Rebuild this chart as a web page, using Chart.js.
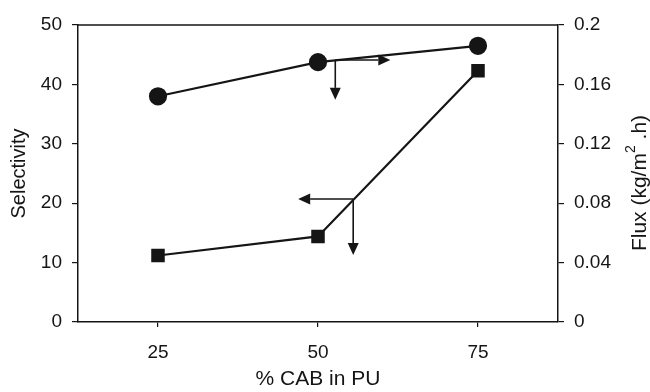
<!DOCTYPE html>
<html>
<head>
<meta charset="utf-8">
<script src="https://cdn.jsdelivr.net/npm/chart.js@4/dist/chart.umd.min.js"></script>
<style>
	html, body { margin: 0; padding: 0; background: #fff; }
	#wrap { width: 650px; height: 392px; position: relative; }
</style>
</head>
<body>
<div id="wrap"><canvas id="cabChart"></canvas></div>
<script>
// values
const cabPercent = [25, 50, 75];
const selectivity = [11.2, 14.4, 42.3];
const flux = [0.152, 0.175, 0.186];
const xTicks = [25, 50, 75];
const selectivityTicks = [0, 10, 20, 30, 40, 50];
const fluxTicks = [0, 0.04, 0.08, 0.12, 0.16, 0.2];

// arrows telling which axis each curve belongs to (x in %CAB, y in selectivity units)
const arrowFrom = [[52.7, 44.1], [52.7, 44.1], [55.5, 20.7], [55.5, 20.7]];
const arrowTo = [[61.3, 44.1], [52.7, 37.4], [46.9, 20.7], [55.5, 11.3]];

const FONT = '"Liberation Sans", Arial, sans-serif';
const INK = '#151515';

const frameAndArrows = {
	id: 'frameAndArrows',
	afterDatasetsDraw(chart) {
		const ctx = chart.ctx;
		const a = chart.chartArea;
		const xs = chart.scales.x, ys = chart.scales.y;
		ctx.save();
		// top border of the plot frame
		ctx.strokeStyle = INK;
		ctx.lineWidth = 1.5;
		ctx.beginPath();
		ctx.moveTo(a.left, a.top);
		ctx.lineTo(a.right, a.top);
		ctx.stroke();

		// arrows
		ctx.lineWidth = 1.6;
		ctx.fillStyle = INK;
		arrowFrom.forEach((f, i) => {
			const x0 = xs.getPixelForValue(f[0]), y0 = ys.getPixelForValue(f[1]);
			const x1 = xs.getPixelForValue(arrowTo[i][0]), y1 = ys.getPixelForValue(arrowTo[i][1]);
			const ang = Math.atan2(y1 - y0, x1 - x0);
			const len = 12, half = 5.5;
			const bx = x1 - len * Math.cos(ang), by = y1 - len * Math.sin(ang);
			ctx.beginPath();
			ctx.moveTo(x0, y0);
			ctx.lineTo(bx, by);
			ctx.stroke();
			ctx.beginPath();
			ctx.moveTo(x1, y1);
			ctx.lineTo(bx + half * Math.sin(ang), by - half * Math.cos(ang));
			ctx.lineTo(bx - half * Math.sin(ang), by + half * Math.cos(ang));
			ctx.closePath();
			ctx.fill();
		});

		// right axis title, reading bottom to top, with superscript
		const tx = 640, ty = 183;
		ctx.translate(tx, ty);
		ctx.rotate(-Math.PI / 2);
		ctx.textBaseline = 'middle';
		ctx.textAlign = 'left';
		const p1 = 'Flux (kg/m', p2 = '2', p3 = ' .h)';
		ctx.font = '21px ' + FONT;
		const w1 = ctx.measureText(p1).width, w3 = ctx.measureText(p3).width;
		ctx.font = '14px ' + FONT;
		const w2 = ctx.measureText(p2).width;
		let x = -(w1 + w2 + w3) / 2;
		ctx.font = '21px ' + FONT;
		ctx.fillText(p1, x, 0);
		x += w1;
		ctx.font = '14px ' + FONT;
		ctx.fillText(p2, x, -9);
		x += w2;
		ctx.font = '21px ' + FONT;
		ctx.fillText(p3, x, 0);
		ctx.restore();
	}
};

const ctx = document.getElementById('cabChart').getContext('2d');
const cabChart = new Chart(ctx, {
	type: 'line',
	data: {
		datasets: [
			{
				label: 'Flux',
				data: cabPercent.map((c, i) => ({ x: c, y: flux[i] })),
				yAxisID: 'y1',
				borderColor: INK,
				backgroundColor: INK,
				borderWidth: 2.2,
				pointStyle: 'circle',
				pointRadius: 8,
				pointHoverRadius: 8,
			},
			{
				label: 'Selectivity',
				data: cabPercent.map((c, i) => ({ x: c, y: selectivity[i] })),
				yAxisID: 'y',
				borderColor: INK,
				backgroundColor: INK,
				borderWidth: 2.2,
				pointStyle: 'rect',
				pointRadius: 8,
				pointHoverRadius: 8,
			}
		]
	},
	options: {
		responsive: true,
		maintainAspectRatio: false,
		animation: false,
		layout: { padding: { top: 25, left: 0, right: 0, bottom: 0 } },
		plugins: {
			legend: { display: false },
			tooltip: { enabled: false }
		},
		scales: {
			x: {
				type: 'linear',
				min: 12.5,
				max: 87.5,
				afterBuildTicks: scale => { scale.ticks = xTicks.map(v => ({ value: v })); },
				afterFit: scale => { scale.height = 70; },
				grid: { drawOnChartArea: false, color: INK, tickLength: 5, lineWidth: 1.2 },
				border: { color: INK, width: 1.5 },
				ticks: { color: INK, font: { family: FONT, size: 19 }, padding: 14 },
				title: { display: true, text: '% CAB in PU', color: INK, font: { family: FONT, size: 21, lineHeight: 1.2 }, padding: 0 }
			},
			y: {
				position: 'left',
				min: 0,
				max: 50,
				afterBuildTicks: scale => { scale.ticks = selectivityTicks.map(v => ({ value: v })); },
				afterFit: scale => { scale.width = 78; },
				grid: { drawOnChartArea: false, color: INK, tickLength: 6, lineWidth: 1.2 },
				border: { color: INK, width: 1.5 },
				ticks: { color: INK, font: { family: FONT, size: 19 }, padding: 10 },
				title: { display: true, text: 'Selectivity', color: INK, font: { family: FONT, size: 20, lineHeight: 1.2 }, padding: { top: 7, bottom: 0 } }
			},
			y1: {
				position: 'right',
				min: 0,
				max: 0.2,
				afterBuildTicks: scale => { scale.ticks = fluxTicks.map(v => ({ value: v })); },
				afterFit: scale => { scale.width = 92; },
				grid: { drawOnChartArea: false, color: INK, tickLength: 6, lineWidth: 1.2 },
				border: { color: INK, width: 1.5 },
				ticks: {
					color: INK,
					font: { family: FONT, size: 19 },
					padding: 10,
					callback: v => Number(v.toFixed(2)).toString()
				}
			}
		}
	},
	plugins: [frameAndArrows]
});
</script>
</body>
</html>
